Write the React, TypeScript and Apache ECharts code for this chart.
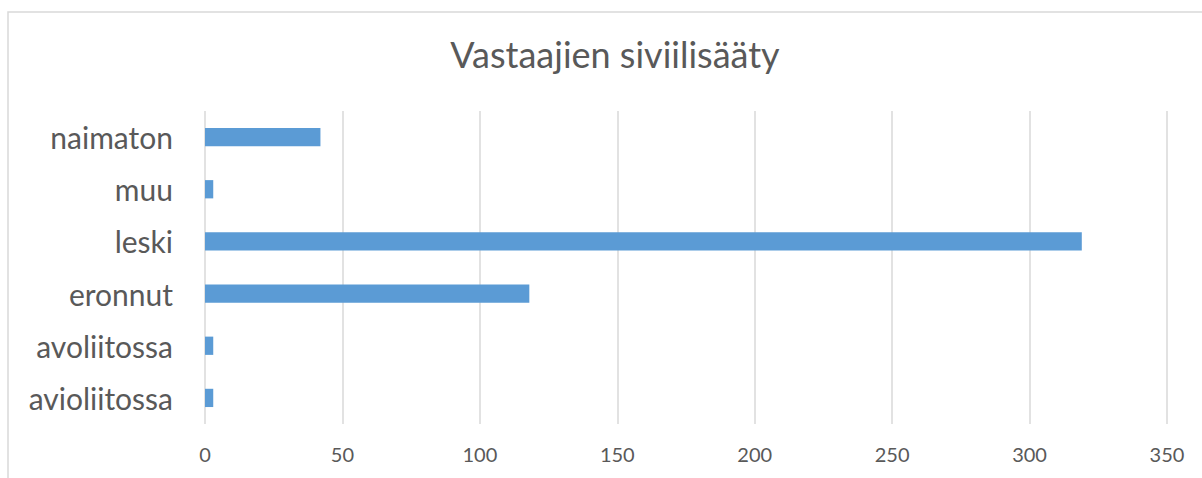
import React, { useEffect, useRef } from "react";
import * as echarts from "echarts";

const categories = ["avioliitossa", "avoliitossa", "eronnut", "leski", "muu", "naimaton"];
const values = [3, 3, 118, 319, 3, 42];
const titleText = "Vastaajien siviilisääty";

export default function App() {
  const ref = useRef<HTMLDivElement>(null);
  useEffect(() => {
    if (!ref.current) return;
    const chart = echarts.init(ref.current, undefined, { renderer: "svg" });
    const font = "Lato, 'Open Sans', sans-serif";
    chart.setOption({
      animation: false,
      backgroundColor: "#ffffff",
      graphic: [
        {
          type: "rect",
          shape: { x: 8, y: 12, width: 1300, height: 600 },
          style: { fill: "none", stroke: "#d9d9d9", lineWidth: 1.5 },
          silent: true,
        },
      ],
      title: {
        text: titleText,
        left: 610,
        top: 31,
        textAlign: "center",
        textStyle: { fontFamily: font, fontSize: 36, fontWeight: "normal", color: "#595959" },
      },
      grid: { left: 205, right: 35, top: 111, bottom: 54, containLabel: false },
      xAxis: {
        type: "value",
        min: 0,
        max: 350,
        interval: 50,
        axisLine: { show: false },
        axisTick: { show: false },
        splitLine: { show: true, lineStyle: { color: "#d9d9d9", width: 1.5 } },
        axisLabel: { fontFamily: font, fontSize: 20, color: "#595959", margin: 20 },
      },
      yAxis: {
        type: "category",
        data: categories,
        axisLine: { show: false },
        axisTick: { show: false },
        splitLine: { show: false },
        axisLabel: { fontFamily: font, fontSize: 30, color: "#595959", margin: 32 },
      },
      series: [
        {
          type: "bar",
          data: values,
          barWidth: "35%",
          itemStyle: { color: "#5b9bd5" },
        },
      ],
    });
    return () => chart.dispose();
  }, []);
  return <div ref={ref} style={{ width: 1202, height: 478, position: "absolute", left: 0, top: 0 }} />;
}
